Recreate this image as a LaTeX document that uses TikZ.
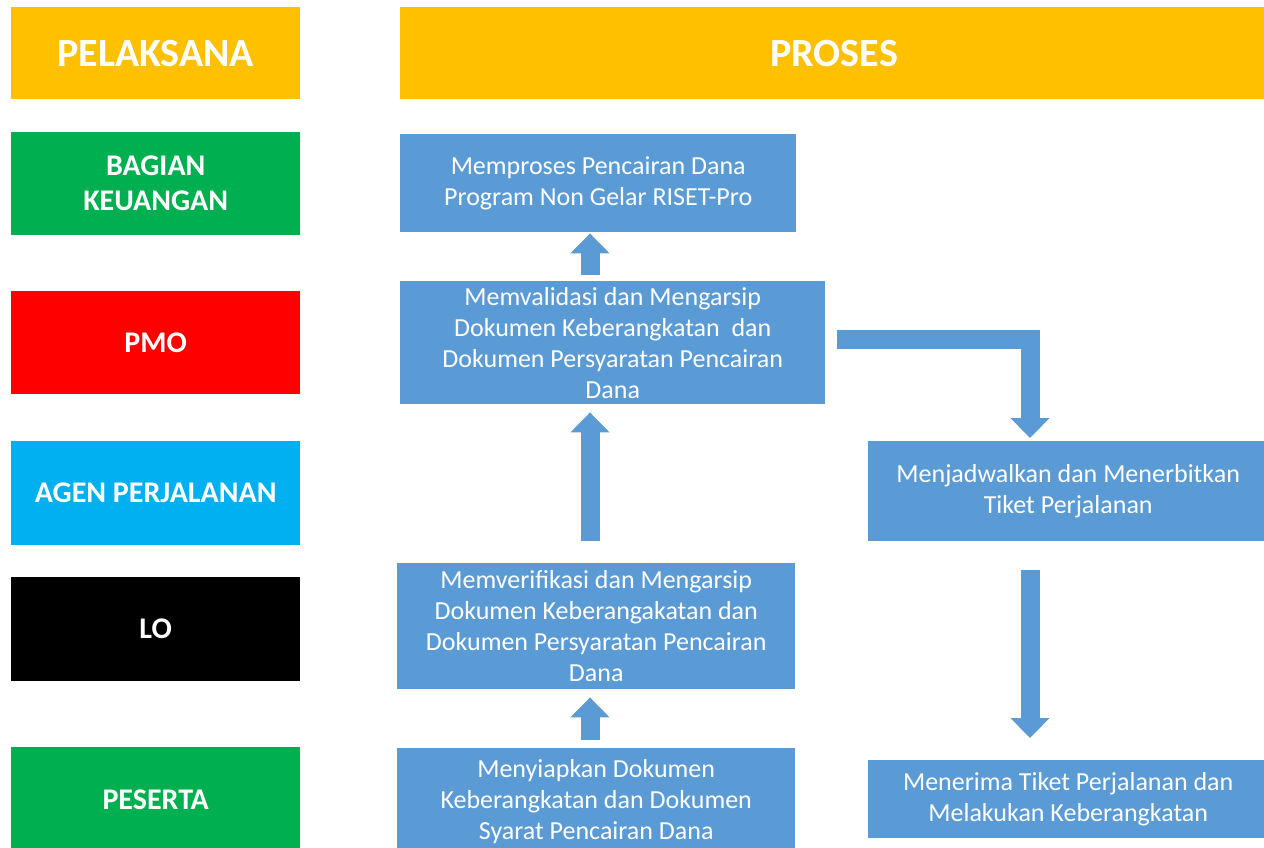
\documentclass[tikz,border=0pt]{standalone}
\usepackage{fontspec}
\setmainfont{Carlito}
\usetikzlibrary{positioning,arrows.meta}
\definecolor{headyellow}{HTML}{FFC000}
\definecolor{lanegreen}{HTML}{00B050}
\definecolor{lanered}{HTML}{FF0000}
\definecolor{lanecyan}{HTML}{00B0F0}
\definecolor{procblue}{HTML}{5B9BD5}

\begin{document}
\begin{tikzpicture}[
    x=1pt, y=-1pt,
    lane/.style={rectangle, anchor=north west, inner sep=0pt, minimum width=289pt, text=white, align=center, font=\bfseries\fontsize{30}{35}\selectfont},
    head/.style={lane, fill=headyellow, minimum height=92pt, font=\bfseries\fontsize{40}{46}\selectfont},
    proc/.style={rectangle, anchor=north west, inner sep=0pt, fill=procblue, text=white, align=center, font=\fontsize{26}{31}\selectfont},
    blockarrow/.style={draw=procblue, line width=19pt, line join=miter, -{Triangle[width=38pt, length=20pt]}}
]
    \useasboundingbox (0,0) rectangle (1264,848);

    % Pelaksana
    \node[head] (pelaksana) at (11, 7) {PELAKSANA};
    \node[lane, fill=lanegreen, minimum height=103pt] (keuangan) at (11, 132) {BAGIAN\\KEUANGAN};
    \node[lane, fill=lanered, minimum height=103pt] (pmo) at (11, 291) {PMO};
    \node[lane, fill=lanecyan, minimum height=104pt] (agen) at (11, 441) {AGEN PERJALANAN};
    \node[lane, fill=black, minimum height=104pt] (lo) at (11, 577) {LO};
    \node[lane, fill=lanegreen, minimum height=106pt] (peserta) at (11, 747) {PESERTA};

    % Proses
    \node[head, minimum width=868pt] (proses) at (400, 7) {PROSES};
    \node[proc, minimum width=396pt, minimum height=98pt] (cair) at (400, 134) {Memproses Pencairan Dana\\Program Non Gelar RISET-Pro};
    \node[proc, minimum width=425pt, minimum height=123pt] (validasi) at (400, 281) {Memvalidasi dan Mengarsip\\Dokumen Keberangkatan\ \ dan\\Dokumen Persyaratan Pencairan\\Dana};
    \node[proc, minimum width=400pt, minimum height=100pt] (tiket) at (868, 441) {Menjadwalkan dan Menerbitkan\\Tiket Perjalanan};
    \node[proc, minimum width=398pt, minimum height=126pt] (verifikasi) at (397, 563) {Memverifikasi dan Mengarsip\\Dokumen Keberangakatan dan\\Dokumen Persyaratan Pencairan\\Dana};
    \node[proc, minimum width=398pt, minimum height=106pt] (siapkan) at (397, 748) {Menyiapkan Dokumen\\Keberangkatan dan Dokumen\\Syarat Pencairan Dana};
    \node[proc, minimum width=400pt, minimum height=78pt] (berangkat) at (868, 760) {Menerima Tiket Perjalanan dan\\Melakukan Keberangkatan};

    % Arrows
    \coordinate (leftaxis) at (590, 0);
    \coordinate (rightaxis) at (1030, 0);
    \draw[blockarrow, shorten <=8pt, shorten >=8pt] (siapkan.north -| leftaxis) -- (verifikasi.south -| leftaxis);
    \draw[blockarrow, shorten <=22pt, shorten >=8pt] (verifikasi.north -| leftaxis) -- (validasi.south -| leftaxis);
    \draw[blockarrow, shorten <=6pt, shorten >=1pt] (validasi.north -| leftaxis) -- (cair.south -| leftaxis);
    \draw[blockarrow, shorten >=3pt] ([xshift=12pt, yshift=3.5pt]validasi.east) -| (tiket.north -| rightaxis);
    \draw[blockarrow, shorten <=29pt, shorten >=22pt] (tiket.south -| rightaxis) -- (berangkat.north -| rightaxis);
\end{tikzpicture}
\end{document}
